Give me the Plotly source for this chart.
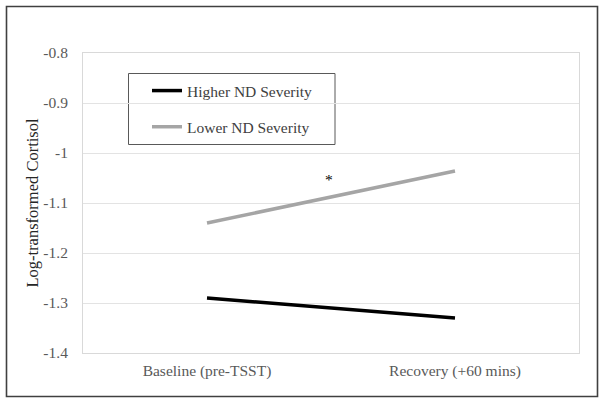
import plotly.graph_objects as go

categories = ["Baseline (pre-TSST)", "Recovery (+60 mins)"]
higher_nd = [-1.29, -1.33]
lower_nd = [-1.14, -1.036]
series_names = ["Higher ND Severity", "Lower ND Severity"]
y_ticks = [-1.4, -1.3, -1.2, -1.1, -1.0, -0.9, -0.8]
y_tick_labels = ["-1.4", "-1.3", "-1.2", "-1.1", "-1", "-0.9", "-0.8"]

FONT = "Times New Roman, Liberation Serif, serif"
W, H = 604, 404
L, R, T, B = 83, 25, 53, 51
pw, ph = W - L - R, H - T - B

def px_x(x):
    return (x - L) / pw

def px_y(y):
    return (H - B - y) / ph

fig = go.Figure()
fig.add_trace(go.Scatter(x=categories, y=higher_nd, mode="lines", name=series_names[0],
                         line=dict(color="#000000", width=3.5), legendgroup="a"))
fig.add_trace(go.Scatter(x=categories, y=lower_nd, mode="lines", name=series_names[1],
                         line=dict(color="#a5a5a5", width=3.5), legendgroup="b"))

fig.add_annotation(x=px_x(329), y=-1.052, xref="paper", yref="y", text="*", showarrow=False,
                   font=dict(family=FONT, size=15.5, color="#000000"))

# outer chart border
fig.add_shape(type="rect", xref="paper", yref="paper",
              x0=px_x(6.5), x1=px_x(597.5), y0=px_y(396.5), y1=px_y(6.5),
              line=dict(color="#404040", width=1.6), fillcolor="rgba(0,0,0,0)", layer="below")
# legend frame
fig.add_shape(type="rect", xref="paper", yref="paper",
              x0=px_x(128.5), x1=px_x(335), y0=px_y(144.5), y1=px_y(73.5),
              line=dict(color="#595959", width=1), fillcolor="white", layer="below")

fig.update_layout(
    width=W, height=H,
    margin=dict(l=L, r=R, t=T, b=B, pad=0),
    paper_bgcolor="white", plot_bgcolor="rgba(0,0,0,0)",
    font=dict(family=FONT, size=15.5, color="#595959"),
    showlegend=True,
    legend=dict(x=px_x(147), y=px_y(74), xanchor="left", yanchor="top",
                borderwidth=0, bgcolor="rgba(0,0,0,0)",
                font=dict(family=FONT, size=15.5, color="#404040"),
                tracegroupgap=13, traceorder="grouped", itemwidth=30),
    xaxis=dict(type="category", range=[-0.5, 1.5], showgrid=False,
               showline=True, linecolor="#d9d9d9", linewidth=1, mirror=True,
               ticks="outside", ticklen=3, tickcolor="rgba(0,0,0,0)",
               tickfont=dict(family=FONT, size=15.5, color="#595959")),
    yaxis=dict(range=[-1.4, -0.8], tickvals=y_ticks, ticktext=y_tick_labels,
               showgrid=True, gridcolor="#e3e3e3", gridwidth=1, zeroline=False,
               showline=True, linecolor="#d9d9d9", linewidth=1, mirror=True,
               ticks="outside", ticklen=11, tickcolor="rgba(0,0,0,0)",
               tickfont=dict(family=FONT, size=15.5, color="#595959"),
               title=dict(text="Log-transformed Cortisol", standoff=0,
                          font=dict(family=FONT, size=16.5, color="#262626"))),
)

fig.write_html("out.html", config={"displayModeBar": False},
               post_script="document.body.style.margin='0';")
